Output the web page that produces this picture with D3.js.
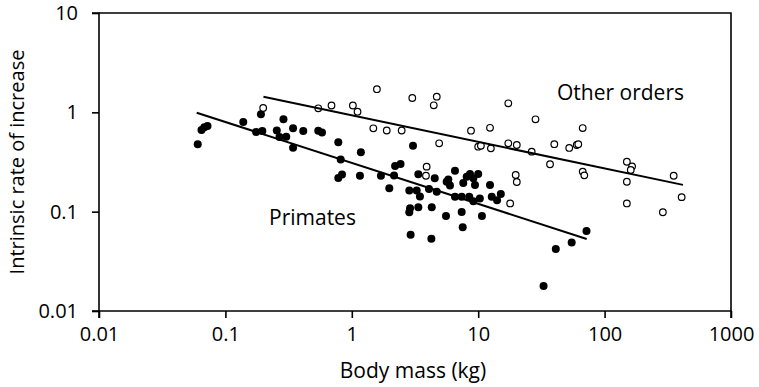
<!DOCTYPE html>
<html>
<head>
<meta charset="utf-8">
<script src="https://cdn.jsdelivr.net/npm/d3@7"></script>
<style>
  html, body { margin: 0; padding: 0; background: #fff; }
  svg { display: block; }
  text { font-family: "Open Sans", "Lato", sans-serif; fill: #000; }
</style>
</head>
<body>
<svg id="chart" width="759" height="387"></svg>
<script>
// ---- Data (body mass in kg, intrinsic rate of increase) ----
const primatesMass = [0.0604,0.0647,0.0681,0.0722,0.1385,0.191,0.175,0.196,0.288,0.255,0.268,0.303,0.343,0.343,0.413,0.543,0.581,0.782,0.817,1.18,0.782,0.837,1.16,1.70,1.98,2.20,2.43,2.16,3.05,3.36,4.53,6.55,2.85,3.26,3.46,4.08,4.70,5.63,5.98,2.89,2.85,3.36,4.29,5.56,6.55,7.40,7.54,7.62,2.92,4.26,5.80,8.11,8.61,9.15,10.0,9.43,7.40,8.50,9.15,10.3,12.4,12.8,15.1,14.1,10.7,71.9,54.9,41.1,32.9];
const primatesRate = [0.477,0.664,0.707,0.729,0.799,0.955,0.634,0.649,0.853,0.656,0.564,0.568,0.691,0.441,0.649,0.653,0.626,0.499,0.335,0.396,0.218,0.237,0.230,0.230,0.172,0.288,0.302,0.231,0.461,0.238,0.217,0.258,0.163,0.163,0.142,0.169,0.159,0.200,0.183,0.108,0.0986,0.111,0.111,0.0904,0.141,0.0992,0.0696,0.194,0.0586,0.0534,0.211,0.225,0.239,0.217,0.239,0.186,0.141,0.141,0.127,0.136,0.186,0.141,0.151,0.130,0.0904,0.0639,0.0489,0.0421,0.0179];

const otherMass = [0.199,0.543,0.691,1.02,1.11,1.58,1.48,1.89,2.48,3.01,4.70,4.45,4.91,3.91,3.86,8.77,12.4,17.3,28.4,10.0,10.5,12.6,17.3,20.2,26.5,40.0,52.5,60.2,61.9,37.0,67.1,67.1,69.1,19.8,20.2,17.9,150,165,161,150,352,407,150,289];
const otherRate = [1.106,1.098,1.172,1.172,1.015,1.709,0.691,0.656,0.656,1.394,1.437,1.177,0.488,0.284,0.230,0.653,0.699,1.233,0.851,0.451,0.461,0.434,0.488,0.469,0.402,0.478,0.438,0.469,0.478,0.300,0.695,0.253,0.232,0.234,0.199,0.121,0.318,0.286,0.263,0.200,0.230,0.140,0.121,0.0986];

// fitted regression lines (end points)
const primatesFitMass = [0.0593, 72.2];
const primatesFitRate = [0.991, 0.0531];
const otherFitMass = [0.2, 417];
const otherFitRate = [1.437, 0.186];

const xTicks = [0.01, 0.1, 1, 10, 100, 1000];
const yTicks = [0.01, 0.1, 1, 10];
const xTickLabels = ["0.01", "0.1", "1", "10", "100", "1000"];
const yTickLabels = ["0.01", "0.1", "1", "10"];

// ---- Layout ----
const svg = d3.select("#chart");
const mL = 99, mR = 731, mT = 13, mB = 311;
const fsTick = 20, fsLabel = 21, fsYTitle = 20;

const x = d3.scaleLog().domain([0.01, 1000]).range([mL, mR]);
const y = d3.scaleLog().domain([0.01, 10]).range([mB, mT]);

// frame (top & right)
svg.append("path")
  .attr("d", `M${mL},${mT}H${mR}V${mB}`)
  .attr("fill", "none").attr("stroke", "#000").attr("stroke-width", 1.6);

const xAxis = d3.axisBottom(x).tickValues(xTicks)
  .tickFormat((d, i) => xTickLabels[i]).tickSize(7).tickPadding(9);
const yAxis = d3.axisLeft(y).tickValues(yTicks)
  .tickFormat((d, i) => yTickLabels[i]).tickSize(7).tickPadding(14);

const gx = svg.append("g").attr("transform", `translate(0,${mB})`).call(xAxis);
const gy = svg.append("g").attr("transform", `translate(${mL},0)`).call(yAxis);
[gx, gy].forEach(g => {
  g.select(".domain").attr("stroke", "#000").attr("stroke-width", 1.6);
  g.selectAll(".tick line").attr("stroke", "#000").attr("stroke-width", 1.6);
  g.selectAll(".tick text").attr("font-size", fsTick).attr("font-family", "'Open Sans', sans-serif").attr("fill", "#000");
});
gy.select(".domain").attr("d", `M-7,${mB}H0V${mT}H-7`);
gx.select(".domain").attr("d", `M${mL},7V0H${mR}V7`);

// points: primates (filled)
svg.append("g").selectAll("circle")
  .data(primatesMass.map((m, i) => [m, primatesRate[i]]))
  .join("circle")
  .attr("cx", d => x(d[0])).attr("cy", d => y(d[1]))
  .attr("r", 4).attr("fill", "#000");

// points: other orders (open)
svg.append("g").selectAll("circle")
  .data(otherMass.map((m, i) => [m, otherRate[i]]))
  .join("circle")
  .attr("cx", d => x(d[0])).attr("cy", d => y(d[1]))
  .attr("r", 3.3).attr("fill", "#fff").attr("stroke", "#000").attr("stroke-width", 1.2);

// regression lines
const line = d3.line().x(d => x(d[0])).y(d => y(d[1]));
svg.append("path")
  .datum(primatesFitMass.map((m, i) => [m, primatesFitRate[i]]))
  .attr("d", line).attr("fill", "none").attr("stroke", "#000").attr("stroke-width", 2);
svg.append("path")
  .datum(otherFitMass.map((m, i) => [m, otherFitRate[i]]))
  .attr("d", line).attr("fill", "none").attr("stroke", "#000").attr("stroke-width", 2);

// annotations
svg.append("text").attr("x", 557).attr("y", 99.5).attr("font-size", fsLabel).text("Other orders");
svg.append("text").attr("x", 269).attr("y", 224.5).attr("font-size", fsLabel).text("Primates");

// axis titles
svg.append("text").attr("x", 413).attr("y", 378)
  .attr("text-anchor", "middle").attr("font-size", fsLabel).text("Body mass (kg)");
svg.append("text")
  .attr("transform", `translate(24,${(mT + mB) / 2}) rotate(-90)`)
  .attr("text-anchor", "middle").attr("font-size", fsYTitle).text("Intrinsic rate of increase");
</script>
</body>
</html>
